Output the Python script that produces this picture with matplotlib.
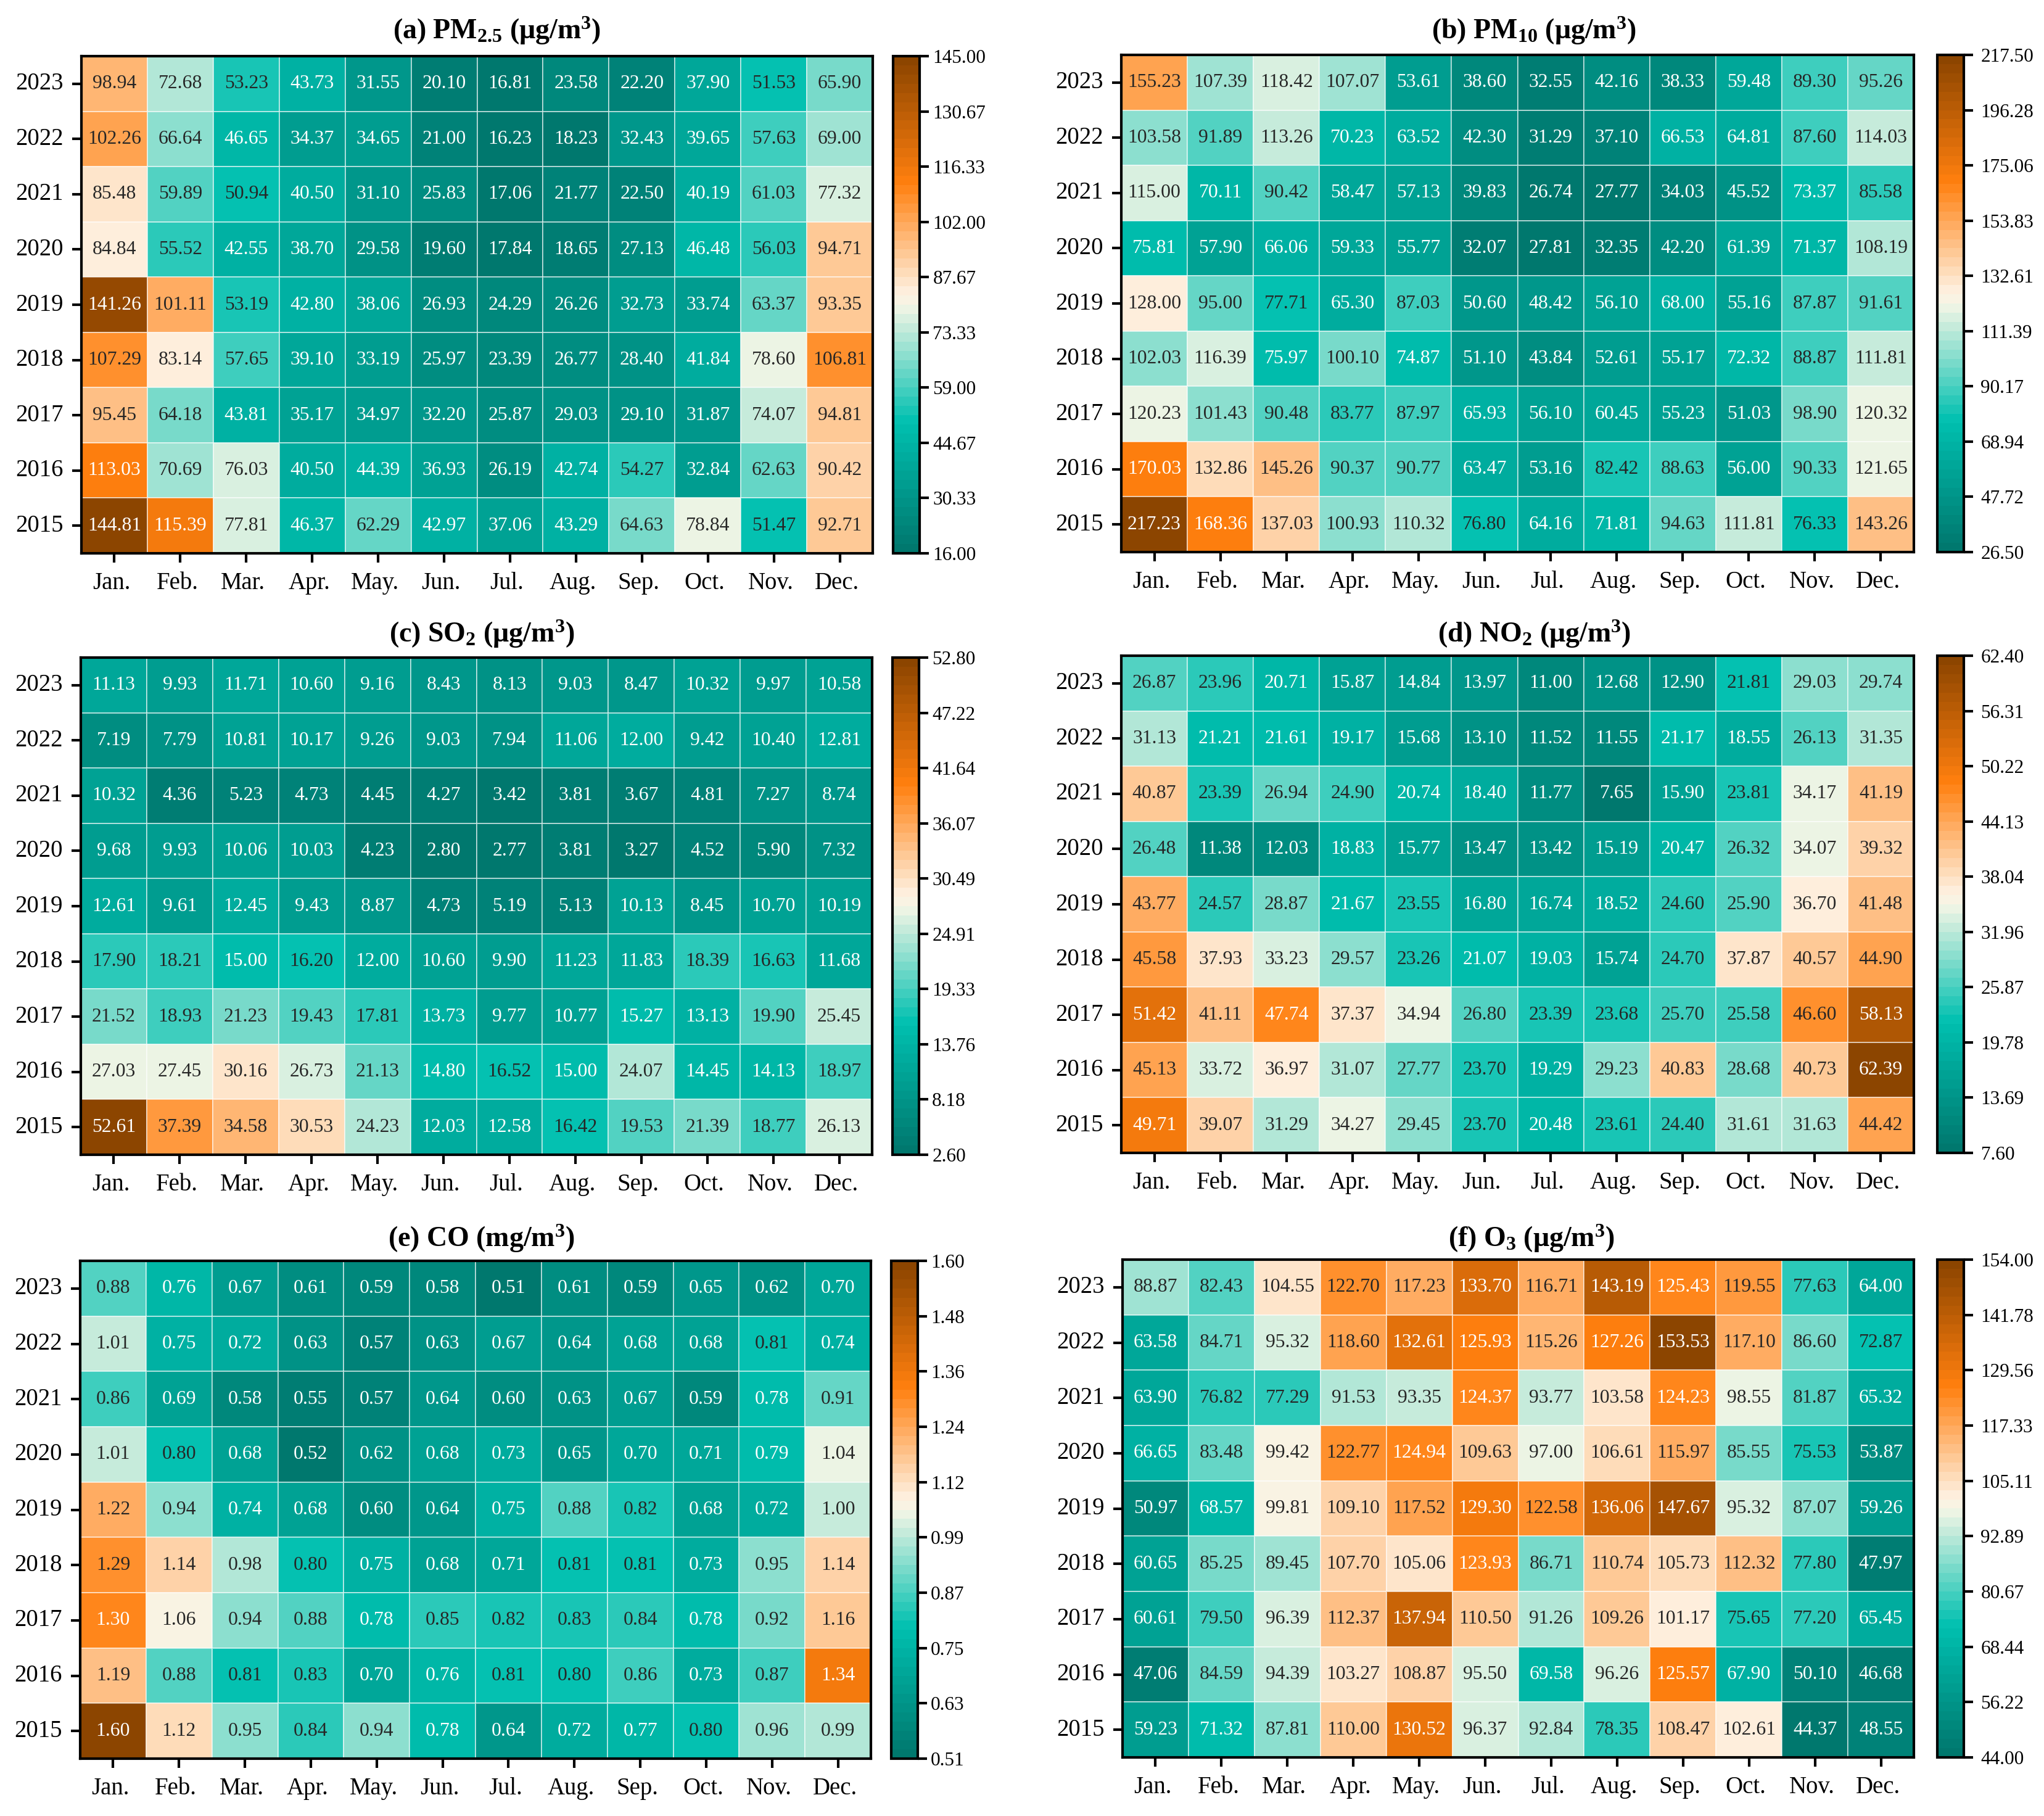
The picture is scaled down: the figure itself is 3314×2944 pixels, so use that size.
import numpy as np
import seaborn as sns
import matplotlib.pyplot as plt
from matplotlib.colors import LinearSegmentedColormap
from matplotlib.transforms import ScaledTranslation

plt.rcParams['font.family'] = ['Liberation Serif', 'DejaVu Serif']
plt.rcParams['mathtext.fontset'] = 'custom'
plt.rcParams['mathtext.rm'] = 'Liberation Serif:bold'
plt.rcParams['mathtext.it'] = 'Liberation Serif:bold'
plt.rcParams['mathtext.bf'] = 'Liberation Serif:bold'

years = [2023, 2022, 2021, 2020, 2019, 2018, 2017, 2016, 2015]
months = ['Jan.', 'Feb.', 'Mar.', 'Apr.', 'May.', 'Jun.', 'Jul.', 'Aug.', 'Sep.', 'Oct.', 'Nov.', 'Dec.']

pm25 = [
    [98.94, 72.68, 53.23, 43.73, 31.55, 20.10, 16.81, 23.58, 22.20, 37.90, 51.53, 65.90],
    [102.26, 66.64, 46.65, 34.37, 34.65, 21.00, 16.23, 18.23, 32.43, 39.65, 57.63, 69.00],
    [85.48, 59.89, 50.94, 40.50, 31.10, 25.83, 17.06, 21.77, 22.50, 40.19, 61.03, 77.32],
    [84.84, 55.52, 42.55, 38.70, 29.58, 19.60, 17.84, 18.65, 27.13, 46.48, 56.03, 94.71],
    [141.26, 101.11, 53.19, 42.80, 38.06, 26.93, 24.29, 26.26, 32.73, 33.74, 63.37, 93.35],
    [107.29, 83.14, 57.65, 39.10, 33.19, 25.97, 23.39, 26.77, 28.40, 41.84, 78.60, 106.81],
    [95.45, 64.18, 43.81, 35.17, 34.97, 32.20, 25.87, 29.03, 29.10, 31.87, 74.07, 94.81],
    [113.03, 70.69, 76.03, 40.50, 44.39, 36.93, 26.19, 42.74, 54.27, 32.84, 62.63, 90.42],
    [144.81, 115.39, 77.81, 46.37, 62.29, 42.97, 37.06, 43.29, 64.63, 78.84, 51.47, 92.71],
]
pm10 = [
    [155.23, 107.39, 118.42, 107.07, 53.61, 38.60, 32.55, 42.16, 38.33, 59.48, 89.30, 95.26],
    [103.58, 91.89, 113.26, 70.23, 63.52, 42.30, 31.29, 37.10, 66.53, 64.81, 87.60, 114.03],
    [115.00, 70.11, 90.42, 58.47, 57.13, 39.83, 26.74, 27.77, 34.03, 45.52, 73.37, 85.58],
    [75.81, 57.90, 66.06, 59.33, 55.77, 32.07, 27.81, 32.35, 42.20, 61.39, 71.37, 108.19],
    [128.00, 95.00, 77.71, 65.30, 87.03, 50.60, 48.42, 56.10, 68.00, 55.16, 87.87, 91.61],
    [102.03, 116.39, 75.97, 100.10, 74.87, 51.10, 43.84, 52.61, 55.17, 72.32, 88.87, 111.81],
    [120.23, 101.43, 90.48, 83.77, 87.97, 65.93, 56.10, 60.45, 55.23, 51.03, 98.90, 120.32],
    [170.03, 132.86, 145.26, 90.37, 90.77, 63.47, 53.16, 82.42, 88.63, 56.00, 90.33, 121.65],
    [217.23, 168.36, 137.03, 100.93, 110.32, 76.80, 64.16, 71.81, 94.63, 111.81, 76.33, 143.26],
]
so2 = [
    [11.13, 9.93, 11.71, 10.60, 9.16, 8.43, 8.13, 9.03, 8.47, 10.32, 9.97, 10.58],
    [7.19, 7.79, 10.81, 10.17, 9.26, 9.03, 7.94, 11.06, 12.00, 9.42, 10.40, 12.81],
    [10.32, 4.36, 5.23, 4.73, 4.45, 4.27, 3.42, 3.81, 3.67, 4.81, 7.27, 8.74],
    [9.68, 9.93, 10.06, 10.03, 4.23, 2.80, 2.77, 3.81, 3.27, 4.52, 5.90, 7.32],
    [12.61, 9.61, 12.45, 9.43, 8.87, 4.73, 5.19, 5.13, 10.13, 8.45, 10.70, 10.19],
    [17.90, 18.21, 15.00, 16.20, 12.00, 10.60, 9.90, 11.23, 11.83, 18.39, 16.63, 11.68],
    [21.52, 18.93, 21.23, 19.43, 17.81, 13.73, 9.77, 10.77, 15.27, 13.13, 19.90, 25.45],
    [27.03, 27.45, 30.16, 26.73, 21.13, 14.80, 16.52, 15.00, 24.07, 14.45, 14.13, 18.97],
    [52.61, 37.39, 34.58, 30.53, 24.23, 12.03, 12.58, 16.42, 19.53, 21.39, 18.77, 26.13],
]
no2 = [
    [26.87, 23.96, 20.71, 15.87, 14.84, 13.97, 11.00, 12.68, 12.90, 21.81, 29.03, 29.74],
    [31.13, 21.21, 21.61, 19.17, 15.68, 13.10, 11.52, 11.55, 21.17, 18.55, 26.13, 31.35],
    [40.87, 23.39, 26.94, 24.90, 20.74, 18.40, 11.77, 7.65, 15.90, 23.81, 34.17, 41.19],
    [26.48, 11.38, 12.03, 18.83, 15.77, 13.47, 13.42, 15.19, 20.47, 26.32, 34.07, 39.32],
    [43.77, 24.57, 28.87, 21.67, 23.55, 16.80, 16.74, 18.52, 24.60, 25.90, 36.70, 41.48],
    [45.58, 37.93, 33.23, 29.57, 23.26, 21.07, 19.03, 15.74, 24.70, 37.87, 40.57, 44.90],
    [51.42, 41.11, 47.74, 37.37, 34.94, 26.80, 23.39, 23.68, 25.70, 25.58, 46.60, 58.13],
    [45.13, 33.72, 36.97, 31.07, 27.77, 23.70, 19.29, 29.23, 40.83, 28.68, 40.73, 62.39],
    [49.71, 39.07, 31.29, 34.27, 29.45, 23.70, 20.48, 23.61, 24.40, 31.61, 31.63, 44.42],
]
co = [
    [0.88, 0.76, 0.67, 0.61, 0.59, 0.58, 0.51, 0.61, 0.59, 0.65, 0.62, 0.70],
    [1.01, 0.75, 0.72, 0.63, 0.57, 0.63, 0.67, 0.64, 0.68, 0.68, 0.81, 0.74],
    [0.86, 0.69, 0.58, 0.55, 0.57, 0.64, 0.60, 0.63, 0.67, 0.59, 0.78, 0.91],
    [1.01, 0.80, 0.68, 0.52, 0.62, 0.68, 0.73, 0.65, 0.70, 0.71, 0.79, 1.04],
    [1.22, 0.94, 0.74, 0.68, 0.60, 0.64, 0.75, 0.88, 0.82, 0.68, 0.72, 1.00],
    [1.29, 1.14, 0.98, 0.80, 0.75, 0.68, 0.71, 0.81, 0.81, 0.73, 0.95, 1.14],
    [1.30, 1.06, 0.94, 0.88, 0.78, 0.85, 0.82, 0.83, 0.84, 0.78, 0.92, 1.16],
    [1.19, 0.88, 0.81, 0.83, 0.70, 0.76, 0.81, 0.80, 0.86, 0.73, 0.87, 1.34],
    [1.60, 1.12, 0.95, 0.84, 0.94, 0.78, 0.64, 0.72, 0.77, 0.80, 0.96, 0.99],
]
o3 = [
    [88.87, 82.43, 104.55, 122.70, 117.23, 133.70, 116.71, 143.19, 125.43, 119.55, 77.63, 64.00],
    [63.58, 84.71, 95.32, 118.60, 132.61, 125.93, 115.26, 127.26, 153.53, 117.10, 86.60, 72.87],
    [63.90, 76.82, 77.29, 91.53, 93.35, 124.37, 93.77, 103.58, 124.23, 98.55, 81.87, 65.32],
    [66.65, 83.48, 99.42, 122.77, 124.94, 109.63, 97.00, 106.61, 115.97, 85.55, 75.53, 53.87],
    [50.97, 68.57, 99.81, 109.10, 117.52, 129.30, 122.58, 136.06, 147.67, 95.32, 87.07, 59.26],
    [60.65, 85.25, 89.45, 107.70, 105.06, 123.93, 86.71, 110.74, 105.73, 112.32, 77.80, 47.97],
    [60.61, 79.50, 96.39, 112.37, 137.94, 110.50, 91.26, 109.26, 101.17, 75.65, 77.20, 65.45],
    [47.06, 84.59, 94.39, 103.27, 108.87, 95.50, 69.58, 96.26, 125.57, 67.90, 50.10, 46.68],
    [59.23, 71.32, 87.81, 110.00, 130.52, 96.37, 92.84, 78.35, 108.47, 102.61, 44.37, 48.55],
]

titles = [r'(a) PM$_{2.5}$ (μg/m$^{3}$)', r'(b) PM$_{10}$ (μg/m$^{3}$)', r'(c) SO$_{2}$ (μg/m$^{3}$)',
          r'(d) NO$_{2}$ (μg/m$^{3}$)', r'(e) CO (mg/m$^{3}$)', r'(f) O$_{3}$ (μg/m$^{3}$)']
vmins = [16.0, 26.5, 2.6, 7.6, 0.51, 44.0]
vmaxs = [145.0, 217.5, 52.8, 62.4, 1.6, 154.0]
panels = [pm25, pm10, so2, no2, co, o3]

# pixel boxes: left, right, top, bottom
boxes = [(132, 1415, 91, 897), (1818, 3103, 89, 895), (131, 1414, 1066, 1872),
         (1818, 3103, 1063, 1869), (130, 1412, 2044, 2851), (1820, 3103, 2042, 2849)]
title_pos = [(806, 50), (2487, 50), (781, 1028), (2488, 1028), (780, 2008), (2483, 2008)]

W, H = 3314, 2944
cmap = LinearSegmentedColormap.from_list(
    'teal_orange',
    [(0, '#00786e'), (0.26, '#00c0b0'), (0.5, '#f6f6e6'), (0.53, '#feeedb'), (0.75, '#ff7f0e'), (1, '#8c4500')],
    N=54)

fig = plt.figure(figsize=(W / 300, H / 300), dpi=300)

for i in range(6):
    l, r, t, b = boxes[i]
    right_col = i % 2 == 1
    ax = fig.add_axes([l / W, 1 - b / H, (r - l) / W, (b - t) / H])
    gap = 38 if right_col else 33
    cax = fig.add_axes([(r + gap) / W, 1 - b / H, 43 / W, (b - t) / H])
    ticks = np.linspace(vmins[i], vmaxs[i], 10)
    sns.heatmap(np.array(panels[i]), ax=ax, cbar_ax=cax, cmap=cmap, vmin=vmins[i], vmax=vmaxs[i],
                annot=True, fmt='.2f', annot_kws={'size': 7.6},
                linewidths=0.4, linecolor=(1, 1, 1, 0.55),
                xticklabels=months, yticklabels=years,
                cbar_kws={'ticks': ticks, 'format': '%.2f'})
    ax.set_aspect('auto')
    for s in ax.spines.values():
        s.set_visible(True)
        s.set_linewidth(1.0)
        s.set_color('black')
    ax.tick_params(axis='both', length=3.6, width=1.0, labelsize=9.3, pad=3.5, labelrotation=0)
    # month labels sit slightly left of their ticks in the original
    shift = ScaledTranslation(-5 / 300, 0, fig.dpi_scale_trans)
    for lab in ax.get_xticklabels():
        lab.set_transform(lab.get_transform() + shift)
    cax.tick_params(length=3.6, width=1.0, labelsize=7.5, pad=3 if right_col else 1.5)
    cb = ax.collections[0].colorbar
    cb.outline.set_visible(True)
    cb.outline.set_linewidth(1.0)
    cb.outline.set_edgecolor('black')
    fig.text(title_pos[i][0] / W, 1 - title_pos[i][1] / H, titles[i], ha='center', va='center',
             fontsize=11, fontweight='bold')

fig.savefig('out.png', dpi=300)
